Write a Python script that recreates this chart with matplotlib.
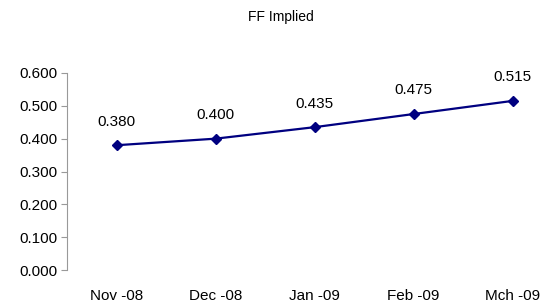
import matplotlib.pyplot as plt

months = ["Nov -08", "Dec -08", "Jan -09", "Feb -09", "Mch -09"]
ff_implied = [0.380, 0.400, 0.435, 0.475, 0.515]

plt.rcParams['font.family'] = ['Liberation Sans', 'DejaVu Sans']

fig = plt.figure(figsize=(5.48, 3.06), dpi=100)
ax = fig.add_axes([67/548, 36/306, 495/548, 197/306])

x = range(len(months))
ax.plot(x, ff_implied, color='#000080', marker='D', markersize=5.5, linewidth=1.6)
for i, v in zip(x, ff_implied):
    ax.annotate(f"{v:.3f}", (i, v), xytext=(0, 12), textcoords='offset points',
                ha='center', va='bottom', fontsize=11)

ax.set_xlim(-0.5, len(months) - 0.5)
ax.set_ylim(0, 0.6)
ax.set_yticks([0, 0.1, 0.2, 0.3, 0.4, 0.5, 0.6])
ax.set_yticklabels([f"{t:.3f}" for t in ax.get_yticks()], fontsize=11)
ax.set_xticks(list(x))
ax.set_xticklabels(months, fontsize=11)
ax.tick_params(axis='x', length=0, pad=14)
ax.tick_params(axis='y', length=4, color='#999999', pad=3)
for s in ['top', 'right', 'bottom']:
    ax.spines[s].set_visible(False)
ax.spines['left'].set_color('#999999')

fig.text(281/548, 1 - 17/306, "FF Implied", ha='center', va='center', fontsize=10)

fig.savefig("out.png", dpi=100)
